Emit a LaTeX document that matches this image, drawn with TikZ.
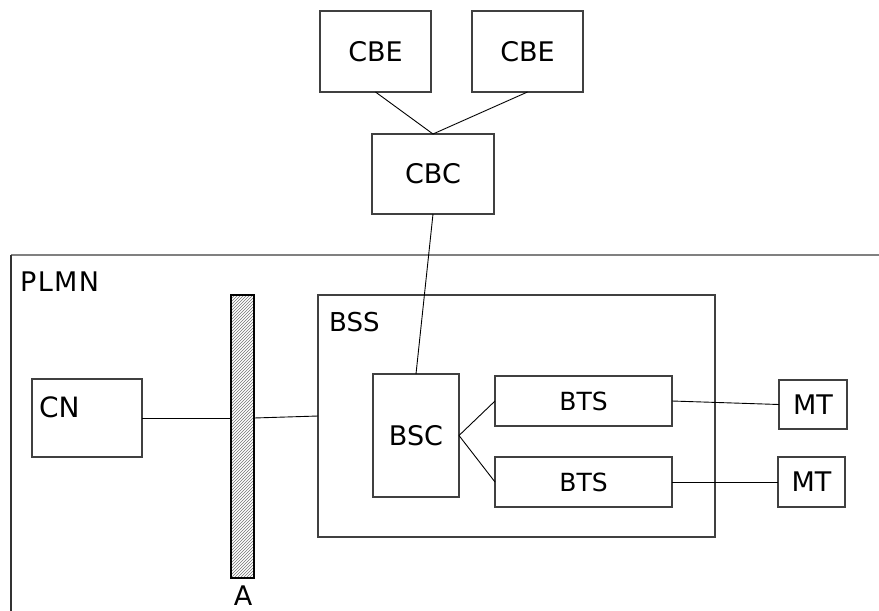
\documentclass[tikz,border=0pt]{standalone}
\usepackage{fontspec}
\setmainfont{DejaVu Sans}
\usetikzlibrary{patterns}
\tikzset{
  box/.style={draw=black!75, line width=1.2pt, rectangle, inner sep=0pt, outer sep=0pt, font=\fontsize{27}{32}\selectfont},
  lbl/.style={inner sep=0pt, anchor=north west},
  conn/.style={draw=black, line width=0.9pt},
  frameline/.style={line width=2pt}
}
\begin{document}
\begin{tikzpicture}[x=1pt,y=-1pt]
\useasboundingbox (0,0) rectangle (879,611);
% PLMN frame
\coordinate (ftl) at (11,255);
\coordinate (ftr) at (879,255);
\coordinate (fbl) at (11,611);
\draw[frameline, draw=black!50] (ftl) -- (ftr);
\draw[line width=1.3pt, draw=black!80] (ftl) -- (fbl);
\node[lbl, font=\fontsize{27}{32}\selectfont\addfontfeature{LetterSpace=5}] (plmn) at (20,272) {PLMN};

% top
\node[box, minimum width=111pt, minimum height=81pt] (cbe1) at (375.5,51.5) {CBE};
\node[box, minimum width=111pt, minimum height=81pt] (cbe2) at (527.5,51.5) {CBE};
\node[box, minimum width=122pt, minimum height=80pt] (cbc) at (433,174) {CBC};

% BSS
\node[box, minimum width=397pt, minimum height=242pt] (bss) at (516.5,416) {};
\node[lbl, font=\fontsize{26}{31}\selectfont] (bsslbl) at (329,312) {BSS};

% CN
\node[box, minimum width=110pt, minimum height=78pt] (cn) at (87,418) {};
\node[lbl, font=\fontsize{28}{33}\selectfont] (cnlbl) at (39,397) {CN};

% bar
\node[draw=black, line width=1.3pt, pattern=north east lines, pattern color=black!55, minimum width=23pt, minimum height=283pt, inner sep=0pt, outer sep=0pt] (bar) at (242.5,436.5) {};
\node[inner sep=0pt, font=\fontsize{27}{32}\selectfont, anchor=base] (alabel) at (243,605) {A};

% BSC, BTS, MT
\node[box, minimum width=86pt, minimum height=123pt] (bsc) at (416,435.5) {BSC};
\node[box, minimum width=177pt, minimum height=50pt, font=\fontsize{25}{30}\selectfont] (bts1) at (583.5,401) {BTS};
\node[box, minimum width=177pt, minimum height=50pt, font=\fontsize{25}{30}\selectfont] (bts2) at (583.5,482) {BTS};
\node[box, minimum width=68pt, minimum height=49pt] (mt1) at (813,404.5) {MT};
\node[box, minimum width=67pt, minimum height=50pt] (mt2) at (811.5,482) {MT};

% connectors
\draw[conn] (cbe1.south) -- (cbc.north);
\draw[conn] (cbe2.south) -- (cbc.north);
\draw[conn] (cbc.south) -- (bsc.north);
\draw[conn] (cn.east) -- (cn.east -| bar.west);
\draw[conn] (bar.east |- cn.east) -- (bss.west);
\draw[conn] (bsc.east) -- (bts1.west);
\draw[conn] (bsc.east) -- (bts2.west);
\draw[conn] (bts1.east) -- (mt1.west);
\draw[conn] (bts2.east) -- (mt2.west);
\end{tikzpicture}
\end{document}
